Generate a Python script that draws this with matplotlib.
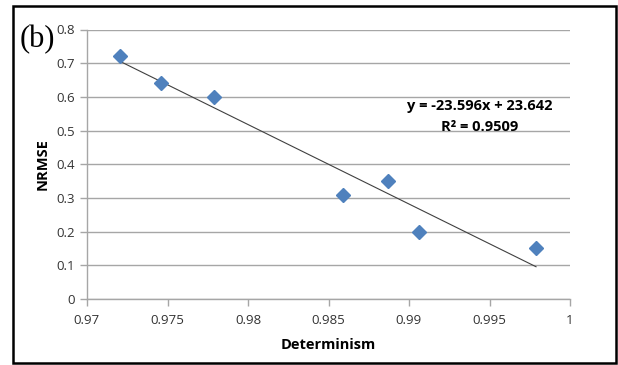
import numpy as np
import matplotlib
matplotlib.use('Agg')
import matplotlib.pyplot as plt
from matplotlib.patches import Rectangle

# data
determinism = [0.97205, 0.97460, 0.97789, 0.98590, 0.98870, 0.99062, 0.99789]
nrmse = [0.72, 0.64, 0.60, 0.31, 0.35, 0.20, 0.15]
slope = -23.596
intercept = 23.642
r2 = 0.9509

x_ticks = [0.97, 0.975, 0.98, 0.985, 0.99, 0.995, 1]
x_tick_labels = ['0.97', '0.975', '0.98', '0.985', '0.99', '0.995', '1']
y_ticks = [0, 0.1, 0.2, 0.3, 0.4, 0.5, 0.6, 0.7, 0.8]
y_tick_labels = ['0', '0.1', '0.2', '0.3', '0.4', '0.5', '0.6', '0.7', '0.8']

plt.rcParams['font.family'] = ['Open Sans', 'DejaVu Sans']

fig = plt.figure(figsize=(6.18, 3.65), dpi=100)
ax = fig.add_axes([87/618, 1-299/365, (570-87)/618, (299-29.5)/365])

grid_col = '#a6a6a6'
ax.set_xlim(0.97, 1)
ax.set_ylim(0, 0.8)
ax.set_xticks(x_ticks)
ax.set_xticklabels(x_tick_labels)
ax.set_yticks(y_ticks)
ax.set_yticklabels(y_tick_labels)
ax.grid(axis='y', color=grid_col, linewidth=1)
ax.set_axisbelow(True)
for s in ['top', 'right']:
    ax.spines[s].set_visible(False)
for s in ['left', 'bottom']:
    ax.spines[s].set_color(grid_col)
    ax.spines[s].set_linewidth(1)
ax.tick_params(axis='both', colors=grid_col, labelcolor='#333333', labelsize=9.5, length=5, width=1)
ax.tick_params(axis='x', pad=6)

# trend line
xs = np.array([min(determinism), max(determinism)])
ax.plot(xs, slope * xs + intercept, color='#404040', linewidth=0.8, zorder=2)

ax.plot(determinism, nrmse, linestyle='none', marker='D', markersize=7.5,
        color='#4f81bd', zorder=3)

ax.set_xlabel('Determinism', fontsize=10.5, fontweight='bold', labelpad=8)
ax.set_ylabel('NRMSE', fontsize=10.5, fontweight='bold', labelpad=5)

fig.text(480/618, 1-106/365, 'y = -23.596x + 23.642', ha='center', va='center',
         fontsize=10.5, fontweight='bold')
fig.text(480/618, 1-127/365, 'R² = %.4f' % r2, ha='center', va='center',
         fontsize=10.5, fontweight='bold')

fig.text(37/618, 1-40/365, '(b)', ha='center', va='center', fontsize=22,
         family='Liberation Serif')

fig.patches.append(Rectangle((13/618, 2/365), (616-13)/618, (359-2)/365,
                             transform=fig.transFigure, fill=False,
                             edgecolor='black', linewidth=1.8))

fig.savefig('out.png', dpi=100)
